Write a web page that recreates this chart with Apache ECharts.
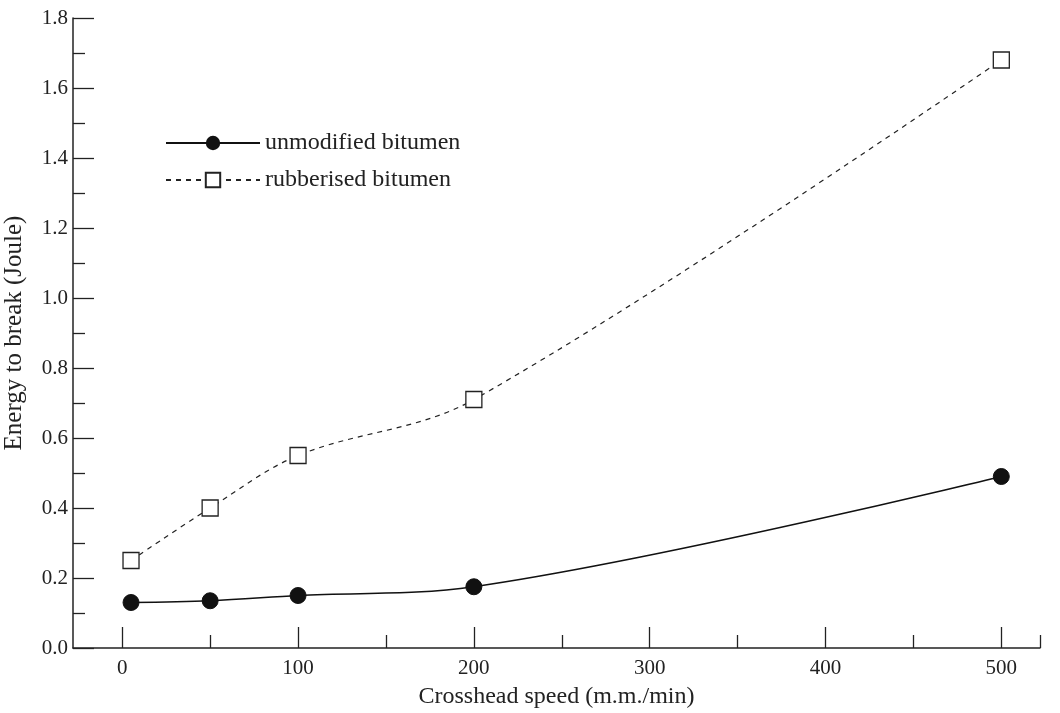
<!DOCTYPE html>
<html>
<head>
<meta charset="utf-8">
<script src="https://cdn.jsdelivr.net/npm/echarts@6/dist/echarts.min.js"></script>
<style>
  html, body { margin: 0; padding: 0; background: #fff; }
  #chart { width: 1060px; height: 713px; }
</style>
</head>
<body>
<div id="chart"></div>
<script>
// 데이터
var speeds = [5, 50, 100, 200, 500];
var unmodified = [0.13, 0.135, 0.15, 0.175, 0.49];
var rubberised = [0.25, 0.40, 0.55, 0.71, 1.68];

var xMajorTicks = [0, 100, 200, 300, 400, 500];
var xMinorTicks = [50, 150, 250, 350, 450, 522];
var yMajorTicks = [0, 0.2, 0.4, 0.6, 0.8, 1.0, 1.2, 1.4, 1.6, 1.8];
var yMinorTicks = [0.1, 0.3, 0.5, 0.7, 0.9, 1.1, 1.3, 1.5, 1.7];

var font = 'Liberation Serif';
var ink = '#222';

function pairs(xs, ys) {
    var out = [];
    for (var i = 0; i < xs.length; i++) {
        out.push([xs[i], ys[i]]);
    }
    return out;
}

var chart = echarts.init(document.getElementById('chart'));

var option = {
    animation: false,
    textStyle: { fontFamily: font, color: ink },
    grid: { left: 73, right: 20, top: 18, bottom: 65, outerBoundsMode: 'none', containLabel: false },
    legend: {
        orient: 'vertical',
        left: 160,
        top: 126,
        itemWidth: 94,
        itemHeight: 18,
        itemGap: 13,
        textStyle: { fontFamily: font, fontSize: 24, color: ink },
        data: ['unmodified bitumen', 'rubberised bitumen']
    },
    xAxis: [
        {
            type: 'value',
            min: -28,
            max: 522,
            name: 'Crosshead speed (m.m./min)',
            nameLocation: 'middle',
            nameGap: 37,
            nameMoveOverlap: false,
            nameTextStyle: { fontFamily: font, fontSize: 24, color: ink },
            axisLine: { show: true, onZero: false, lineStyle: { color: ink, width: 1.5 } },
            axisTick: { show: true, inside: true, length: 21, customValues: xMajorTicks, lineStyle: { color: ink, width: 1.3 } },
            axisLabel: { customValues: xMajorTicks, margin: 10, fontFamily: font, fontSize: 21, color: ink },
            splitLine: { show: false }
        },
        {
            type: 'value',
            min: -28,
            max: 522,
            position: 'bottom',
            axisLine: { show: false, onZero: false },
            axisTick: { show: true, inside: true, length: 13, customValues: xMinorTicks, lineStyle: { color: ink, width: 1.3 } },
            axisLabel: { show: false },
            splitLine: { show: false }
        }
    ],
    yAxis: [
        {
            type: 'value',
            min: 0,
            max: 1.8,
            name: 'Energy to break (Joule)',
            nameLocation: 'middle',
            nameGap: 46,
            nameMoveOverlap: false,
            nameTextStyle: { fontFamily: font, fontSize: 25, color: ink },
            axisLine: { show: true, onZero: false, lineStyle: { color: ink, width: 1.5 } },
            axisTick: { show: true, inside: true, length: 21, customValues: yMajorTicks, lineStyle: { color: ink, width: 1.3 } },
            axisLabel: {
                customValues: yMajorTicks,
                margin: 5,
                fontFamily: font,
                fontSize: 21,
                color: ink,
                formatter: function (v) { return v.toFixed(1); }
            },
            splitLine: { show: false }
        },
        {
            type: 'value',
            min: 0,
            max: 1.8,
            position: 'left',
            axisLine: { show: false, onZero: false },
            axisTick: { show: true, inside: true, length: 12, customValues: yMinorTicks, lineStyle: { color: ink, width: 1.3 } },
            axisLabel: { show: false },
            splitLine: { show: false }
        }
    ],
    series: [
        {
            name: 'unmodified bitumen',
            type: 'line',
            smooth: 0.35,
            data: pairs(speeds, unmodified),
            symbol: 'circle',
            symbolSize: 16,
            itemStyle: { color: '#111', borderColor: '#111' },
            lineStyle: { color: '#111', width: 1.5 }
        },
        {
            name: 'rubberised bitumen',
            type: 'line',
            smooth: 0.35,
            data: pairs(speeds, rubberised),
            symbol: 'rect',
            symbolSize: 16,
            itemStyle: { color: '#fff', borderColor: '#222', borderWidth: 1.3 },
            lineStyle: { color: '#222', width: 1.2, type: [5, 5] }
        }
    ]
};

chart.setOption(option);
</script>
</body>
</html>
